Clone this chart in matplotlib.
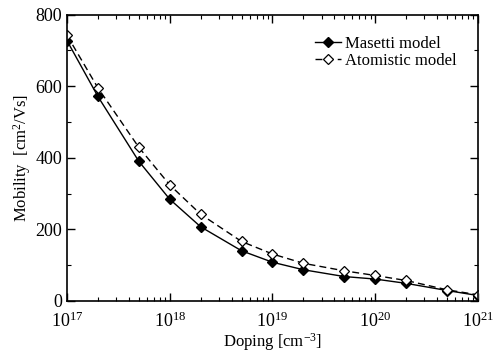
import matplotlib
matplotlib.use("Agg")
import matplotlib.pyplot as plt
from matplotlib.ticker import MultipleLocator, LogLocator

plt.rcParams["font.family"] = "Liberation Serif"
plt.rcParams["mathtext.fontset"] = "custom"
plt.rcParams["mathtext.rm"] = "Liberation Serif"
plt.rcParams["mathtext.it"] = "Liberation Serif:italic"
plt.rcParams["mathtext.default"] = "regular"

doping = [1e17, 2e17, 5e17, 1e18, 2e18, 5e18, 1e19, 2e19, 5e19, 1e20, 2e20, 5e20, 1e21]
masetti = [727, 571, 390, 284, 207, 140, 108, 87, 68, 61, 49, 29, 15]
atomistic = [742, 595, 429, 324, 242, 166, 131, 105, 84, 71, 57, 31, 17]

fig = plt.figure(figsize=(4.94, 3.54), dpi=100)
ax = fig.add_axes([0.1356, 0.150, 0.832, 0.809])

ax.plot(doping, masetti, "-", color="black", lw=1.0, marker="D", ms=5,
        mfc="black", mec="black", label="Masetti model")
ax.plot(doping, atomistic, "--", color="black", lw=1.0, marker="D", ms=5,
        mfc="white", mec="black", mew=0.9, label="Atomistic model", dashes=(5, 3))

ax.set_xscale("log")
ax.set_xlim(1e17, 1e21)
ax.set_ylim(0, 800)
ax.yaxis.set_major_locator(MultipleLocator(200))
ax.yaxis.set_minor_locator(MultipleLocator(100))
ax.xaxis.set_major_locator(LogLocator(base=10, numticks=10))
ax.xaxis.set_minor_locator(LogLocator(base=10, subs=range(2, 10), numticks=20))

ax.tick_params(which="both", direction="in", top=True, right=True, labelsize=13)
ax.tick_params(which="major", length=6, width=1.0)
ax.tick_params(which="minor", length=3, width=0.8)
ax.tick_params(axis="x", which="major", pad=7.5)
for s in ax.spines.values():
    s.set_linewidth(1.2)

ax.set_xlabel("Doping [cm$^{-3}$]", fontsize=12, labelpad=0)
ax.set_ylabel("Mobility  [cm$^2$/Vs]", fontsize=12, labelpad=2)

ax.legend(loc="upper right", frameon=False, fontsize=12, handlelength=1.6,
          handletextpad=0.2, labelspacing=0.05, borderaxespad=0.9,
          bbox_to_anchor=(1.0, 1.0))

fig.savefig("out.png", dpi=100)
